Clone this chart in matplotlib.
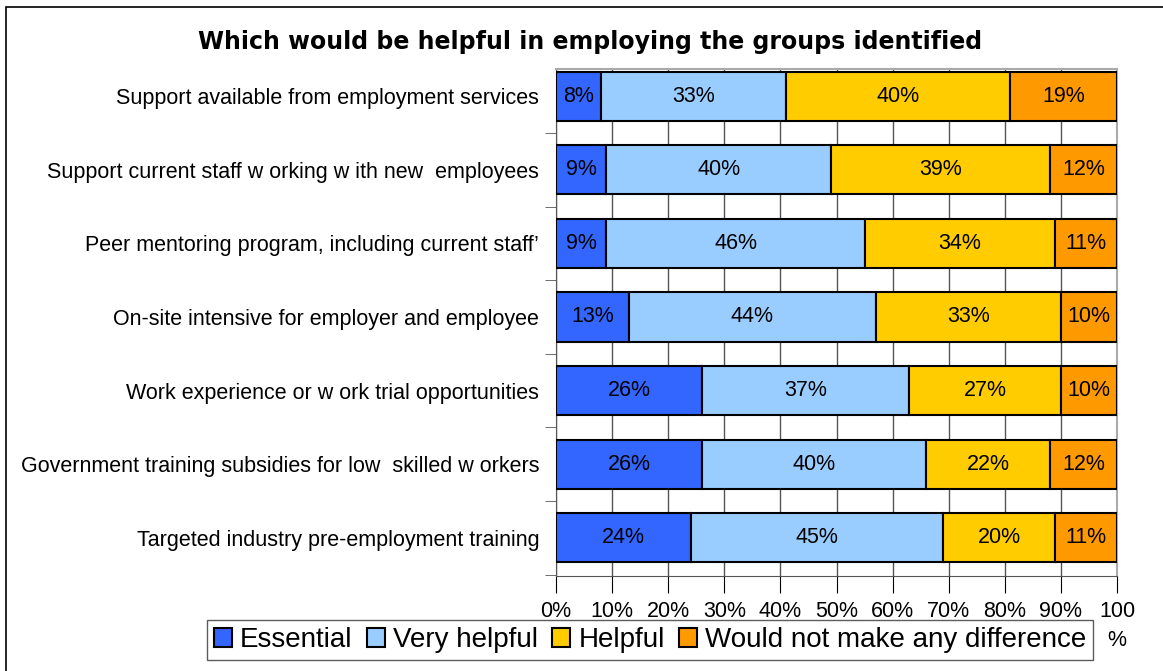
import numpy as np
import matplotlib.pyplot as plt
from matplotlib.patches import Rectangle

plt.rcParams['font.family'] = ['Liberation Sans', 'DejaVu Sans']

categories = [
    "Support available from employment services",
    "Support current staff w orking w ith new  employees",
    "Peer mentoring program, including current staff\u2019",
    "On-site intensive for employer and employee",
    "Work experience or w ork trial opportunities",
    "Government training subsidies for low  skilled w orkers",
    "Targeted industry pre-employment training",
]
essential = [8, 9, 9, 13, 26, 26, 24]
very_helpful = [33, 40, 46, 44, 37, 40, 45]
helpful = [40, 39, 34, 33, 27, 22, 20]
no_difference = [19, 12, 11, 10, 10, 12, 11]

series_names = ["Essential", "Very helpful", "Helpful", "Would not make any difference"]
colors = ["#3366FF", "#99CCFF", "#FFCC00", "#FF9900"]
xtick_labels = ["0%", "10%", "20%", "30%", "40%", "50%", "60%", "70%", "80%", "90%", "100\n%"]

fig = plt.figure(figsize=(11.63, 6.71), dpi=100)
ax = fig.add_axes([556 / 1163, 1 - 576 / 671, (1117 - 556) / 1163, (576 - 69) / 671])

# outer chart frame
fig.patches.append(Rectangle((6 / 1163, -0.05), 1.2, 1 - 7 / 671 + 0.05,
                             transform=fig.transFigure, fill=False,
                             edgecolor="black", linewidth=1.2))

y = np.arange(len(categories))[::-1]
left = np.zeros(len(categories))
for name, vals, c in zip(series_names, [essential, very_helpful, helpful, no_difference], colors):
    vals = np.array(vals, dtype=float)
    bars = ax.barh(y, vals, left=left, height=0.67, color=c, edgecolor="black",
                   linewidth=1.5, label=name, zorder=3)
    for b, v in zip(bars, vals):
        ax.text(b.get_x() + b.get_width() / 2, b.get_y() + b.get_height() / 2,
                f"{int(v)}%", ha="center", va="center", fontsize=15.5, zorder=4)
    left += vals

ax.set_xlim(0, 100)
ax.set_ylim(-0.52, 6.37)
ax.set_xticks(np.arange(0, 101, 10))
ax.set_xticklabels(xtick_labels, fontsize=15.5, linespacing=1.5)
ax.set_yticks(y)
ax.set_yticklabels(categories, fontsize=15.5)
ax.set_yticks(np.arange(-0.5, 6.5, 1), minor=True)
ax.tick_params(axis="y", which="major", length=0, pad=12)
ax.tick_params(axis="y", which="minor", length=8, direction="out", color="#555555")
ax.tick_params(axis="x", length=12, direction="out", pad=6)
ax.xaxis.grid(True, color="#555555", linewidth=1, zorder=0)

for s in ["top", "right"]:
    ax.spines[s].set_color("#AAAAAA")
    ax.spines[s].set_linewidth(1.5)
ax.spines["left"].set_color("#555555")
ax.spines["bottom"].set_color("#555555")

fig.text(590 / 1163, 1 - 42 / 671, "Which would be helpful in employing the groups identified",
         ha="center", va="center", fontsize=17, fontweight="bold",
         family=["DejaVu Sans"])

leg = fig.legend(loc="center", bbox_to_anchor=(650 / 1163, 1 - 640 / 671), ncol=4,
                 fontsize=20, frameon=True, fancybox=False, edgecolor="#333333",
                 handlelength=0.65, handleheight=0.65, handletextpad=0.3,
                 columnspacing=0.5, borderpad=0.25)
leg.get_frame().set_linewidth(1)

fig.savefig("out.png", dpi=100)
